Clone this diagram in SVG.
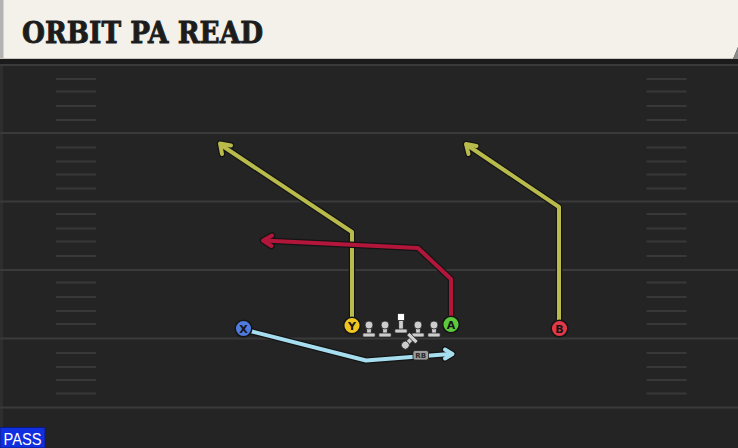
<svg xmlns="http://www.w3.org/2000/svg" xmlns:xlink="http://www.w3.org/1999/xlink" width="738" height="448" viewBox="0 0 738 448">
<style>
.yl{stroke:#3a3a3a;stroke-width:2}
.hm{stroke:#383838;stroke-width:2}
.rt{fill:none;stroke-width:4;stroke-linejoin:round;stroke-linecap:round}
.ol{fill:none;stroke:#141414;stroke-width:6.5;stroke-linejoin:round;stroke-linecap:round}
.pc{stroke:#151515;stroke-width:1.5}
.pl{font-family:"DejaVu Sans","Liberation Sans",sans-serif;font-weight:bold;font-size:11px;fill:#151515;text-anchor:middle}
.lm{fill:#cdcdcd;stroke:#222;stroke-width:0.8}
</style>
<defs>
<g id="lmShape">
<rect class="lm" x="-2.3" y="-8" width="4.6" height="9.5"/>
<rect class="lm" x="-6.2" y="0" width="12.4" height="4" rx="1"/>
<circle class="lm" cx="0" cy="-8" r="4"/>
</g>
</defs>
<rect x="0" y="0" width="738" height="448" fill="#242424"/>
<rect x="0" y="58" width="738" height="8" fill="#1b1b1b"/>
<rect x="0" y="66" width="3" height="382" fill="#2e2e2e"/>
<g id="field">
<line class="yl" x1="0" y1="65" x2="738" y2="65"/>
<line class="yl" x1="0" y1="133" x2="738" y2="133"/>
<line class="yl" x1="0" y1="201.5" x2="738" y2="201.5"/>
<line class="yl" x1="0" y1="270" x2="738" y2="270"/>
<line class="yl" x1="0" y1="338.5" x2="738" y2="338.5"/>
<line class="yl" x1="0" y1="407.5" x2="738" y2="407.5"/>
<g id="hashL">
<line class="hm" x1="56" y1="79" x2="96" y2="79"/><line class="hm" x1="56" y1="91.5" x2="96" y2="91.5"/><line class="hm" x1="56" y1="106" x2="96" y2="106"/><line class="hm" x1="56" y1="120" x2="96" y2="120"/>
<line class="hm" x1="56" y1="147.5" x2="96" y2="147.5"/><line class="hm" x1="56" y1="161.5" x2="96" y2="161.5"/><line class="hm" x1="56" y1="174.5" x2="96" y2="174.5"/><line class="hm" x1="56" y1="188.5" x2="96" y2="188.5"/>
<line class="hm" x1="56" y1="214" x2="96" y2="214"/><line class="hm" x1="56" y1="228.5" x2="96" y2="228.5"/><line class="hm" x1="56" y1="241.5" x2="96" y2="241.5"/><line class="hm" x1="56" y1="256" x2="96" y2="256"/>
<line class="hm" x1="56" y1="282.5" x2="96" y2="282.5"/><line class="hm" x1="56" y1="297" x2="96" y2="297"/><line class="hm" x1="56" y1="311" x2="96" y2="311"/><line class="hm" x1="56" y1="324" x2="96" y2="324"/>
<line class="hm" x1="56" y1="353" x2="96" y2="353"/><line class="hm" x1="56" y1="367" x2="96" y2="367"/><line class="hm" x1="56" y1="380" x2="96" y2="380"/><line class="hm" x1="56" y1="393.5" x2="96" y2="393.5"/>
</g>
<use xlink:href="#hashL" href="#hashL" x="590.5" y="0"/>
</g>
<g id="title">
<polygon points="0,0 738,0 738,47 733,59 0,59" fill="#f4f1ea"/>
<rect x="0" y="0" width="3.5" height="59" fill="#b3b3b3"/>
<line x1="0" y1="58.5" x2="733" y2="58.5" stroke="#c9c6c0" stroke-width="1.2"/>
<polygon points="738,47 733,59 738,59" fill="#8a8a8a"/>
<text x="22" y="43" font-family="'DejaVu Serif','Liberation Serif',serif" font-weight="bold" font-size="30" textLength="241" lengthAdjust="spacingAndGlyphs" fill="#1c1c1c" stroke="#1c1c1c" stroke-width="0.9">ORBIT PA READ</text>
</g>
<g id="connectors">
<g id="route-x">
<polyline class="ol" points="250,331 366,360.5 450,354"/>
<polyline class="ol" points="445,349.5 452.5,354 445,358.5"/>
<polyline class="rt" stroke="#a6def0" points="250,331 366,360.5 450,354"/>
<polyline class="rt" stroke="#a6def0" points="445,349.5 452.5,354 445,358.5"/>
</g>
<g id="route-y">
<polyline class="ol" points="352,318 352,232 221,145"/>
<polyline class="ol" points="231,145.5 220,143.5 222,154"/>
<polyline class="rt" stroke="#b8bb4b" points="352,318 352,232 221,145"/>
<polyline class="rt" stroke="#b8bb4b" points="231,145.5 220,143.5 222,154"/>
</g>
<g id="route-b">
<polyline class="ol" points="559,320 559,207 467,145"/>
<polyline class="ol" points="476.5,146 466,144 468.5,154"/>
<polyline class="rt" stroke="#b8bb4b" points="559,320 559,207 467,145"/>
<polyline class="rt" stroke="#b8bb4b" points="476.5,146 466,144 468.5,154"/>
</g>
<g id="route-a">
<polyline class="ol" points="451,316 451,279 418,248 264,240.5"/>
<polyline class="ol" points="272,235.5 263,240.5 271.5,246"/>
<polyline class="rt" stroke="#b3163b" points="451,316 451,279 418,248 264,240.5"/>
<polyline class="rt" stroke="#b3163b" points="272,235.5 263,240.5 271.5,246"/>
</g>
</g>
<g id="lt"><use xlink:href="#lmShape" href="#lmShape" x="369" y="333"/></g>
<g id="lg"><use xlink:href="#lmShape" href="#lmShape" x="385" y="333"/></g>
<g id="c">
<rect class="lm" x="398.7" y="320" width="4.6" height="10"/>
<rect class="lm" x="394.8" y="329" width="12.4" height="4" rx="1"/>
<rect x="397.5" y="313.5" width="7" height="7" fill="#ffffff" stroke="#222" stroke-width="0.8"/>
</g>
<g id="rg"><use xlink:href="#lmShape" href="#lmShape" x="418" y="333"/></g>
<g id="rt"><use xlink:href="#lmShape" href="#lmShape" x="434" y="333"/></g>
<g id="qb"><use xlink:href="#lmShape" href="#lmShape" transform="translate(411,339.5) rotate(-135)"/></g>
<g id="rb">
<rect x="413" y="350.5" width="15.5" height="9.5" rx="2" fill="#9c9c9c" stroke="#222" stroke-width="0.8"/>
<text x="420.7" y="358.2" font-family="'DejaVu Sans','Liberation Sans',sans-serif" font-size="7" font-weight="bold" fill="#2a2a2a" text-anchor="middle">RB</text>
</g>
<g id="x"><circle class="pc" cx="243.5" cy="328.5" r="8.3" fill="#4f7ade"/><text class="pl" x="243.5" y="332.5">X</text></g>
<g id="y"><circle class="pc" cx="352" cy="325.5" r="8.3" fill="#eec61f"/><text class="pl" x="352" y="329.5">Y</text></g>
<g id="a"><circle class="pc" cx="451" cy="324.5" r="8.3" fill="#5dcb3b"/><text class="pl" x="451" y="328.5">A</text></g>
<g id="b"><circle class="pc" cx="559.5" cy="328.5" r="8.3" fill="#e33848"/><text class="pl" x="559.5" y="332.5">B</text></g>
<g id="pass">
<rect x="0" y="427.5" width="45" height="20.5" fill="#0f2fe0" stroke="#0a1a80" stroke-width="1"/>
<text x="3.5" y="445" font-family="'Liberation Sans',Arial,sans-serif" font-size="16" textLength="38" lengthAdjust="spacingAndGlyphs" fill="#ffffff">PASS</text>
</g>
</svg>
